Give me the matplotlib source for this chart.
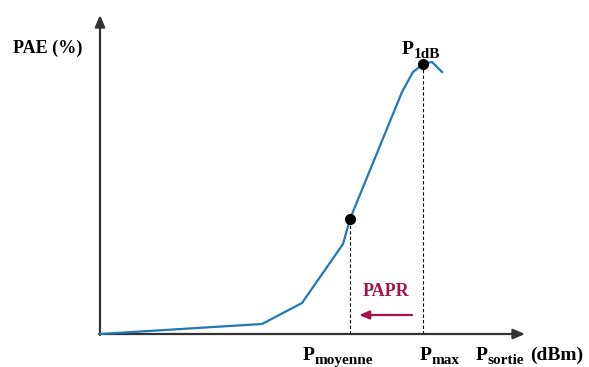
import numpy as np
import matplotlib.pyplot as plt
from matplotlib.transforms import offset_copy

plt.rcParams['font.family'] = 'serif'
plt.rcParams['font.serif'] = ['Liberation Serif', 'DejaVu Serif']

# courbe PAE en fonction de la puissance de sortie (unités arbitraires)
p_sortie = [0, 162, 202, 243, 250, 302, 313, 323, 332, 336, 342]
pae = [0, 10, 31, 90, 115, 242, 262, 270, 272, 268, 262]

# points remarquables
p_moyenne = 250
pae_moyenne = 115
p_max = 323
pae_max = 270

fig = plt.figure(figsize=(5.89, 3.67), dpi=100)
ax = fig.add_axes([0, 0, 1, 1])
ax.set_xlim(-100, 489)
ax.set_ylim(-33, 334)
ax.axis('off')
renderer = fig.canvas.get_renderer()


def label_p(x, y, sub, after='', color='black'):
    """P majuscule suivi d'un indice, en gras."""
    t = ax.text(x, y, 'P', fontsize=14, fontweight='bold', ha='left',
                va='baseline', color=color)
    bb = t.get_window_extent(renderer)
    tr = offset_copy(ax.transData, fig=fig, x=bb.width * 72 / fig.dpi, y=-3,
                     units='points')
    s = ax.text(x, y, sub, fontsize=11, fontweight='bold', ha='left',
                va='baseline', color=color, transform=tr)
    if after:
        bb2 = s.get_window_extent(renderer)
        tr2 = offset_copy(ax.transData, fig=fig,
                          x=(bb.width + bb2.width) * 72 / fig.dpi + 4, y=0,
                          units='points')
        ax.text(x, y, after, fontsize=14, fontweight='bold', ha='left',
                va='baseline', color=color, transform=tr2)


# axes avec flèches
ax.annotate('', xy=(0, 319), xytext=(0, -1),
            arrowprops=dict(arrowstyle='-|>,head_width=0.3,head_length=0.7',
                            color='#333333', lw=1.6, shrinkA=0, shrinkB=0))
ax.annotate('', xy=(425, 0), xytext=(-1, 0),
            arrowprops=dict(arrowstyle='-|>,head_width=0.3,head_length=0.7',
                            color='#333333', lw=1.6, shrinkA=0, shrinkB=0))

ax.plot(p_sortie, pae, color='#2078b4', lw=1.6, zorder=3)

ax.plot([p_moyenne, p_moyenne], [0, pae_moyenne], ls=(0, (3, 2)), color='black', lw=0.8)
ax.plot([p_max, p_max], [0, pae_max], ls=(0, (3, 2)), color='black', lw=0.8)
ax.plot([p_moyenne, p_max], [pae_moyenne, pae_max], 'o', color='black', ms=7, zorder=4)

ax.text(-52, 286, 'PAE (%)', fontsize=13, fontweight='bold', ha='center', va='center')
label_p(302, 280, '1dB')
label_p(203, -26, 'moyenne')
label_p(320, -26, 'max')
label_p(376, -26, 'sortie', after='(dBm)')

ax.text(286, 43, 'PAPR', fontsize=13, fontweight='bold', color='#a3134e',
        ha='center', va='center')
ax.annotate('', xy=(259, 19), xytext=(312, 19),
            arrowprops=dict(arrowstyle='-|>,head_width=0.25,head_length=0.6',
                            color='#a3134e', lw=1.6, shrinkA=0, shrinkB=0))

plt.savefig('out.png', dpi=100)
plt.close()
